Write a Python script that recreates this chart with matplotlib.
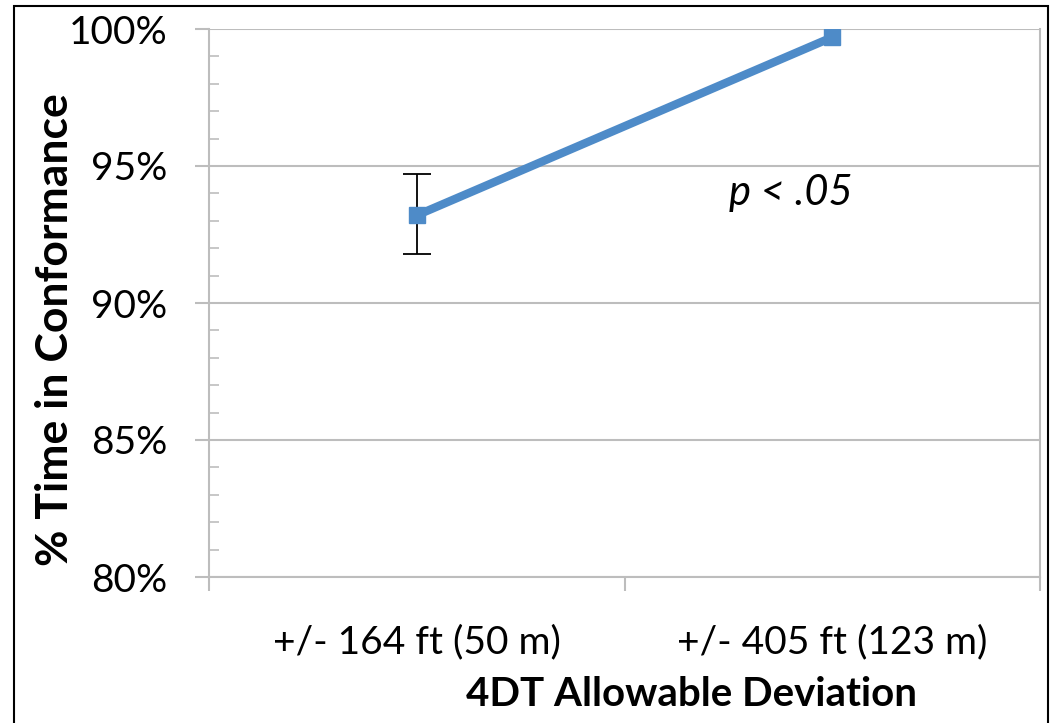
import matplotlib
matplotlib.use("Agg")
import matplotlib.pyplot as plt
from matplotlib.patches import Rectangle
from matplotlib.ticker import MultipleLocator, FuncFormatter, FixedLocator, NullFormatter
import numpy as np

# data
categories = ["+/- 164 ft (50 m)", "+/- 405 ft (123 m)"]
conformance = [93.2, 99.7]          # % time in conformance
err_low = [1.4, 0.0]
err_high = [1.5, 0.0]
annotation = "p < .05"

FONT = "Lato"
LINE_BLUE = "#4E8BC8"
GRID_GRAY = "#BDBDBD"

plt.rcParams["font.family"] = [FONT, "DejaVu Sans"]

fig = plt.figure(figsize=(10.53, 7.23), dpi=100)
ax = fig.add_axes([209 / 1053, 1 - 577 / 723, (1040 - 209) / 1053, (577 - 29) / 723])

x = np.arange(len(categories))

# error bars only where there is a spread
ex = [xi for xi, lo, hi in zip(x, err_low, err_high) if lo > 0 or hi > 0]
ey = [conformance[i] for i in ex]
elo = [err_low[i] for i in ex]
ehi = [err_high[i] for i in ex]
ax.errorbar(ex, ey, yerr=[elo, ehi], fmt="none", ecolor="black",
            elinewidth=1.3, capsize=10, capthick=1.3, zorder=3)

ax.plot(x, conformance, color=LINE_BLUE, lw=6, marker="s", ms=11,
        solid_capstyle="butt", zorder=4)

ax.set_xlim(-0.5, len(categories) - 0.5)
ax.set_ylim(80, 100)

# y axis: major every 5 (ticks out), minor every 1 (ticks in)
ax.yaxis.set_major_locator(MultipleLocator(5))
ax.yaxis.set_minor_locator(MultipleLocator(1))
ax.yaxis.set_major_formatter(FuncFormatter(lambda v, p: f"{v:.0f}%"))
ax.tick_params(axis="y", which="major", direction="out", length=10, width=1.5,
               color=GRID_GRAY, labelsize=28, pad=20)
ax.tick_params(axis="y", which="minor", direction="in", length=7, width=1.2,
               color=GRID_GRAY)

# x axis: ticks at category boundaries, labels at centres
ax.xaxis.set_major_locator(FixedLocator(np.arange(-0.5, len(categories), 1.0)))
ax.xaxis.set_major_formatter(NullFormatter())
ax.xaxis.set_minor_locator(FixedLocator(x))
ax.set_xticklabels(categories, minor=True)
ax.tick_params(axis="x", which="major", direction="out", length=10, width=1.5,
               color=GRID_GRAY)
ax.tick_params(axis="x", which="minor", length=0, labelsize=28, pad=34)

ax.grid(axis="y", which="major", color=GRID_GRAY, lw=1.5)
ax.set_axisbelow(True)
for side in ["left", "right", "bottom"]:
    ax.spines[side].set_color(GRID_GRAY)
    ax.spines[side].set_linewidth(1.5)
ax.spines["top"].set_visible(False)

ax.set_ylabel("% Time in Conformance", fontsize=32, fontweight="bold", va="center")
ax.yaxis.set_label_coords(-(209 - 55) / 831, 1 - (330 - 29) / 548)
ax.set_xlabel("4DT Allowable Deviation", fontsize=29, fontweight="bold", va="center")
ax.xaxis.set_label_coords((692 - 209) / 831, -(695 - 577) / 548)

ax.text(0.9, 94.0, annotation, fontsize=30, style="italic", ha="center", va="center")

# outer chart frame
fig.add_artist(Rectangle((14 / 1053, -0.1), (1048 - 14) / 1053, 1 - 6 / 723 + 0.1,
                         transform=fig.transFigure, fill=False, ec="black", lw=1.5))

fig.savefig("out.png", dpi=100)
